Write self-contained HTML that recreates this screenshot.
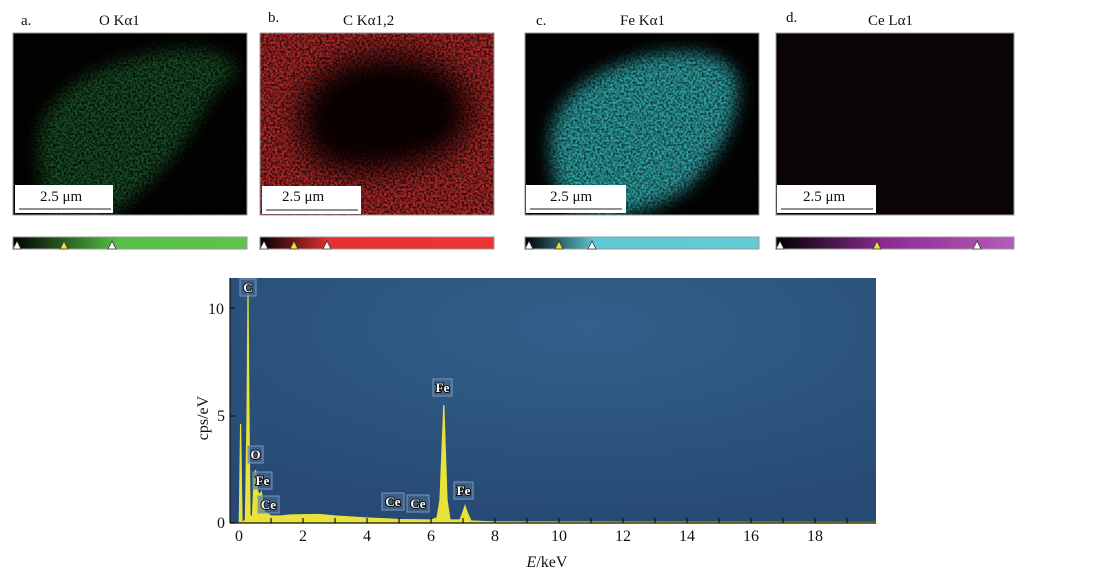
<!DOCTYPE html>
<html><head><meta charset="utf-8"><style>
html,body{margin:0;padding:0;background:#fff;width:1096px;height:580px;overflow:hidden}
svg{display:block;font-family:"Liberation Serif",serif}
</style></head><body>
<svg width="1096" height="580" viewBox="0 0 1096 580" xmlns="http://www.w3.org/2000/svg">
<defs>
<filter id="noise" x="0" y="0" width="100%" height="100%">
<feTurbulence type="fractalNoise" baseFrequency="0.45" numOctaves="2" seed="3"/>
<feColorMatrix type="matrix" values="0 0 0 0 0  0 0 0 0 0  0 0 0 0 0  0 0 0 -2.2 1.5"/>
</filter>
<filter id="blur" x="-30%" y="-30%" width="160%" height="160%"><feGaussianBlur stdDeviation="14"/></filter>
<filter id="blur2" x="-30%" y="-30%" width="160%" height="160%"><feGaussianBlur stdDeviation="8"/></filter>
<linearGradient id="cbA"><stop offset="0" stop-color="#000"/><stop offset="0.45" stop-color="#55c045"/><stop offset="1" stop-color="#5fc44a"/></linearGradient>
<linearGradient id="cbB"><stop offset="0" stop-color="#000"/><stop offset="0.3" stop-color="#e73030"/><stop offset="1" stop-color="#ee3333"/></linearGradient>
<linearGradient id="cbC"><stop offset="0" stop-color="#000"/><stop offset="0.3" stop-color="#5ccad4"/><stop offset="1" stop-color="#62cbd6"/></linearGradient>
<linearGradient id="cbD"><stop offset="0" stop-color="#000"/><stop offset="0.45" stop-color="#8a2a90"/><stop offset="1" stop-color="#b55bb8"/></linearGradient>
<radialGradient id="bg" cx="0.55" cy="0.2" r="0.8"><stop offset="0" stop-color="#32608a"/><stop offset="1" stop-color="#274a74"/></radialGradient>
<clipPath id="cA"><rect x="13" y="33" width="234" height="182"/></clipPath>
<clipPath id="cB"><rect x="260" y="33" width="234" height="182"/></clipPath>
<clipPath id="cC"><rect x="525" y="33" width="234" height="182"/></clipPath>
</defs>

<g font-size="15" fill="#111">
<text x="21" y="25">a.</text><text x="99" y="25">O Kα1</text>
<text x="268" y="22">b.</text><text x="343" y="25">C Kα1,2</text>
<text x="536" y="25">c.</text><text x="620" y="25">Fe Kα1</text>
<text x="786" y="22">d.</text><text x="868" y="25">Ce Lα1</text>
</g>

<!-- panel a -->
<rect x="13" y="33" width="234" height="182" fill="#050302"/>
<g clip-path="url(#cA)">
<path d="M40 165 C30 120 60 85 105 68 C145 52 185 45 210 52 C228 58 240 62 236 75 C215 85 205 110 185 140 C165 170 130 205 100 220 L50 220 C42 200 40 185 40 165Z" fill="#1b5a2c" filter="url(#blur2)" opacity="0.9"/>
<rect x="13" y="33" width="234" height="182" filter="url(#noise)" opacity="0.9"/>
</g>
<rect x="13" y="33" width="234" height="182" fill="none" stroke="#999"/>
<!-- panel b -->
<rect x="260" y="33" width="234" height="182" fill="#b52a2a"/>
<g clip-path="url(#cB)">
<path d="M300 120 C300 80 340 55 390 55 C440 55 470 80 470 110 C470 145 440 160 410 165 C380 175 340 175 315 160 C305 150 300 135 300 120Z" fill="#080202" filter="url(#blur)"/>
<rect x="260" y="33" width="234" height="182" filter="url(#noise)" opacity="0.85"/>
</g>
<rect x="260" y="33" width="234" height="182" fill="none" stroke="#999"/>
<!-- panel c -->
<rect x="525" y="33" width="234" height="182" fill="#040303"/>
<g clip-path="url(#cC)">
<path d="M552 160 C542 110 580 75 640 58 C690 45 732 55 737 80 C742 120 715 160 690 185 C660 210 620 218 580 216 C562 205 554 188 552 160Z" fill="#2ea3a4" filter="url(#blur2)"/>
<rect x="525" y="33" width="234" height="182" filter="url(#noise)" opacity="0.7"/>
</g>
<rect x="525" y="33" width="234" height="182" fill="none" stroke="#999"/>
<!-- panel d -->
<rect x="776" y="33" width="238" height="182" fill="#0a0405" stroke="#999"/>

<g font-size="15" fill="#111">
<rect x="15" y="185" width="98" height="28" fill="#fff"/><line x1="19" y1="209" x2="111" y2="209" stroke="#222"/><text x="40" y="201">2.5 μm</text>
<rect x="262" y="186" width="99" height="28" fill="#fff"/><line x1="266" y1="210" x2="358" y2="210" stroke="#222"/><text x="282" y="201">2.5 μm</text>
<rect x="526" y="185" width="100" height="28" fill="#fff"/><line x1="530" y1="209" x2="622" y2="209" stroke="#222"/><text x="550" y="201">2.5 μm</text>
<rect x="777" y="185" width="99" height="28" fill="#fff"/><line x1="781" y1="209" x2="873" y2="209" stroke="#222"/><text x="803" y="201">2.5 μm</text>
</g>

<g stroke="#999">
<rect x="13" y="237" width="234" height="12" fill="url(#cbA)"/>
<rect x="260" y="237" width="234" height="12" fill="url(#cbB)"/>
<rect x="525" y="237" width="234" height="12" fill="url(#cbC)"/>
<rect x="776" y="237" width="238" height="12" fill="url(#cbD)"/>
</g>
<g stroke="#333" stroke-width="0.8">
<path d="M13 249l4-8 4 8z" fill="#fff"/><path d="M60 249l4-8 4 8z" fill="#e6e23a"/><path d="M108 249l4-8 4 8z" fill="#fff"/>
<path d="M260 249l4-8 4 8z" fill="#fff"/><path d="M290 249l4-8 4 8z" fill="#e6e23a"/><path d="M323 249l4-8 4 8z" fill="#fff"/>
<path d="M525 249l4-8 4 8z" fill="#fff"/><path d="M555 249l4-8 4 8z" fill="#e6e23a"/><path d="M588 249l4-8 4 8z" fill="#fff"/>
<path d="M776 249l4-8 4 8z" fill="#fff"/><path d="M873 249l4-8 4 8z" fill="#e6e23a"/><path d="M973 249l4-8 4 8z" fill="#fff"/>
</g>

<rect x="230" y="278" width="646" height="245" fill="url(#bg)"/>
<path d="M239 523 L239.3 523 L240.6 424 L242 523 L245.4 520 L247 420 L248 293 L249 420 L250 515 L252.4 518 L254 480 L255.6 470 L257.5 490 L259 495 L261.4 492 L263 505 L264.6 512 L268 514 L271 516 L280.6 516 L290 515 L319 514.5 L335 516 L367 518 L399 519.5 L431 520 L437 518 L440 500 L443.8 405 L447 500 L450 520 L460 520 L463 512 L465 506 L467 512 L471 521 L495 522 L876 522.5 L876 523 Z" fill="#e8e33a" stroke="#e8e33a" stroke-width="1.2"/>
<g stroke="#111" stroke-width="1.2" fill="none">
<line x1="230" y1="278" x2="230" y2="523"/><line x1="230" y1="523" x2="876" y2="523"/>
<path d="M230 308h5M230 416h5M230 523h5M271 523v-5M303 523v-5M335 523v-5M367 523v-5M399 523v-5M431 523v-5M463 523v-5M495 523v-5M527 523v-5M559 523v-5M591 523v-5M623 523v-5M655 523v-5M687 523v-5M719 523v-5M751 523v-5M783 523v-5M815 523v-5M847 523v-5"/>
</g>
<g font-size="16" fill="#111" text-anchor="middle">
<text x="216" y="314">10</text><text x="221" y="421">5</text><text x="221" y="528">0</text>
<text x="239" y="541">0</text><text x="303" y="541">2</text><text x="367" y="541">4</text><text x="431" y="541">6</text><text x="495" y="541">8</text>
<text x="559" y="541">10</text><text x="623" y="541">12</text><text x="687" y="541">14</text><text x="751" y="541">16</text><text x="815" y="541">18</text>
<text x="547" y="567"><tspan font-style="italic">E</tspan>/keV</text>
<text transform="translate(208,418) rotate(-90)">cps/eV</text>
</g>
<g fill="#4a6c94" fill-opacity="0.6" stroke="#7b98bb" stroke-width="1">
<rect x="240" y="279" width="16" height="17"/><rect x="248" y="446" width="15" height="17"/><rect x="253" y="472" width="19" height="17"/><rect x="258" y="496" width="21" height="17"/>
<rect x="382" y="493" width="22" height="17"/><rect x="407" y="495" width="22" height="17"/><rect x="433" y="379" width="19" height="17"/><rect x="454" y="482" width="19" height="17"/>
</g>
<g font-size="13" fill="#fff" stroke="#111" stroke-width="2" paint-order="stroke" text-anchor="middle" font-weight="bold">
<text x="248" y="292">C</text><text x="255.5" y="459">O</text><text x="262.5" y="485">Fe</text><text x="268.5" y="509">Ce</text>
<text x="393" y="506">Ce</text><text x="418" y="508">Ce</text><text x="442.5" y="392">Fe</text><text x="463.5" y="495">Fe</text>
</g>
</svg>
</body></html>
